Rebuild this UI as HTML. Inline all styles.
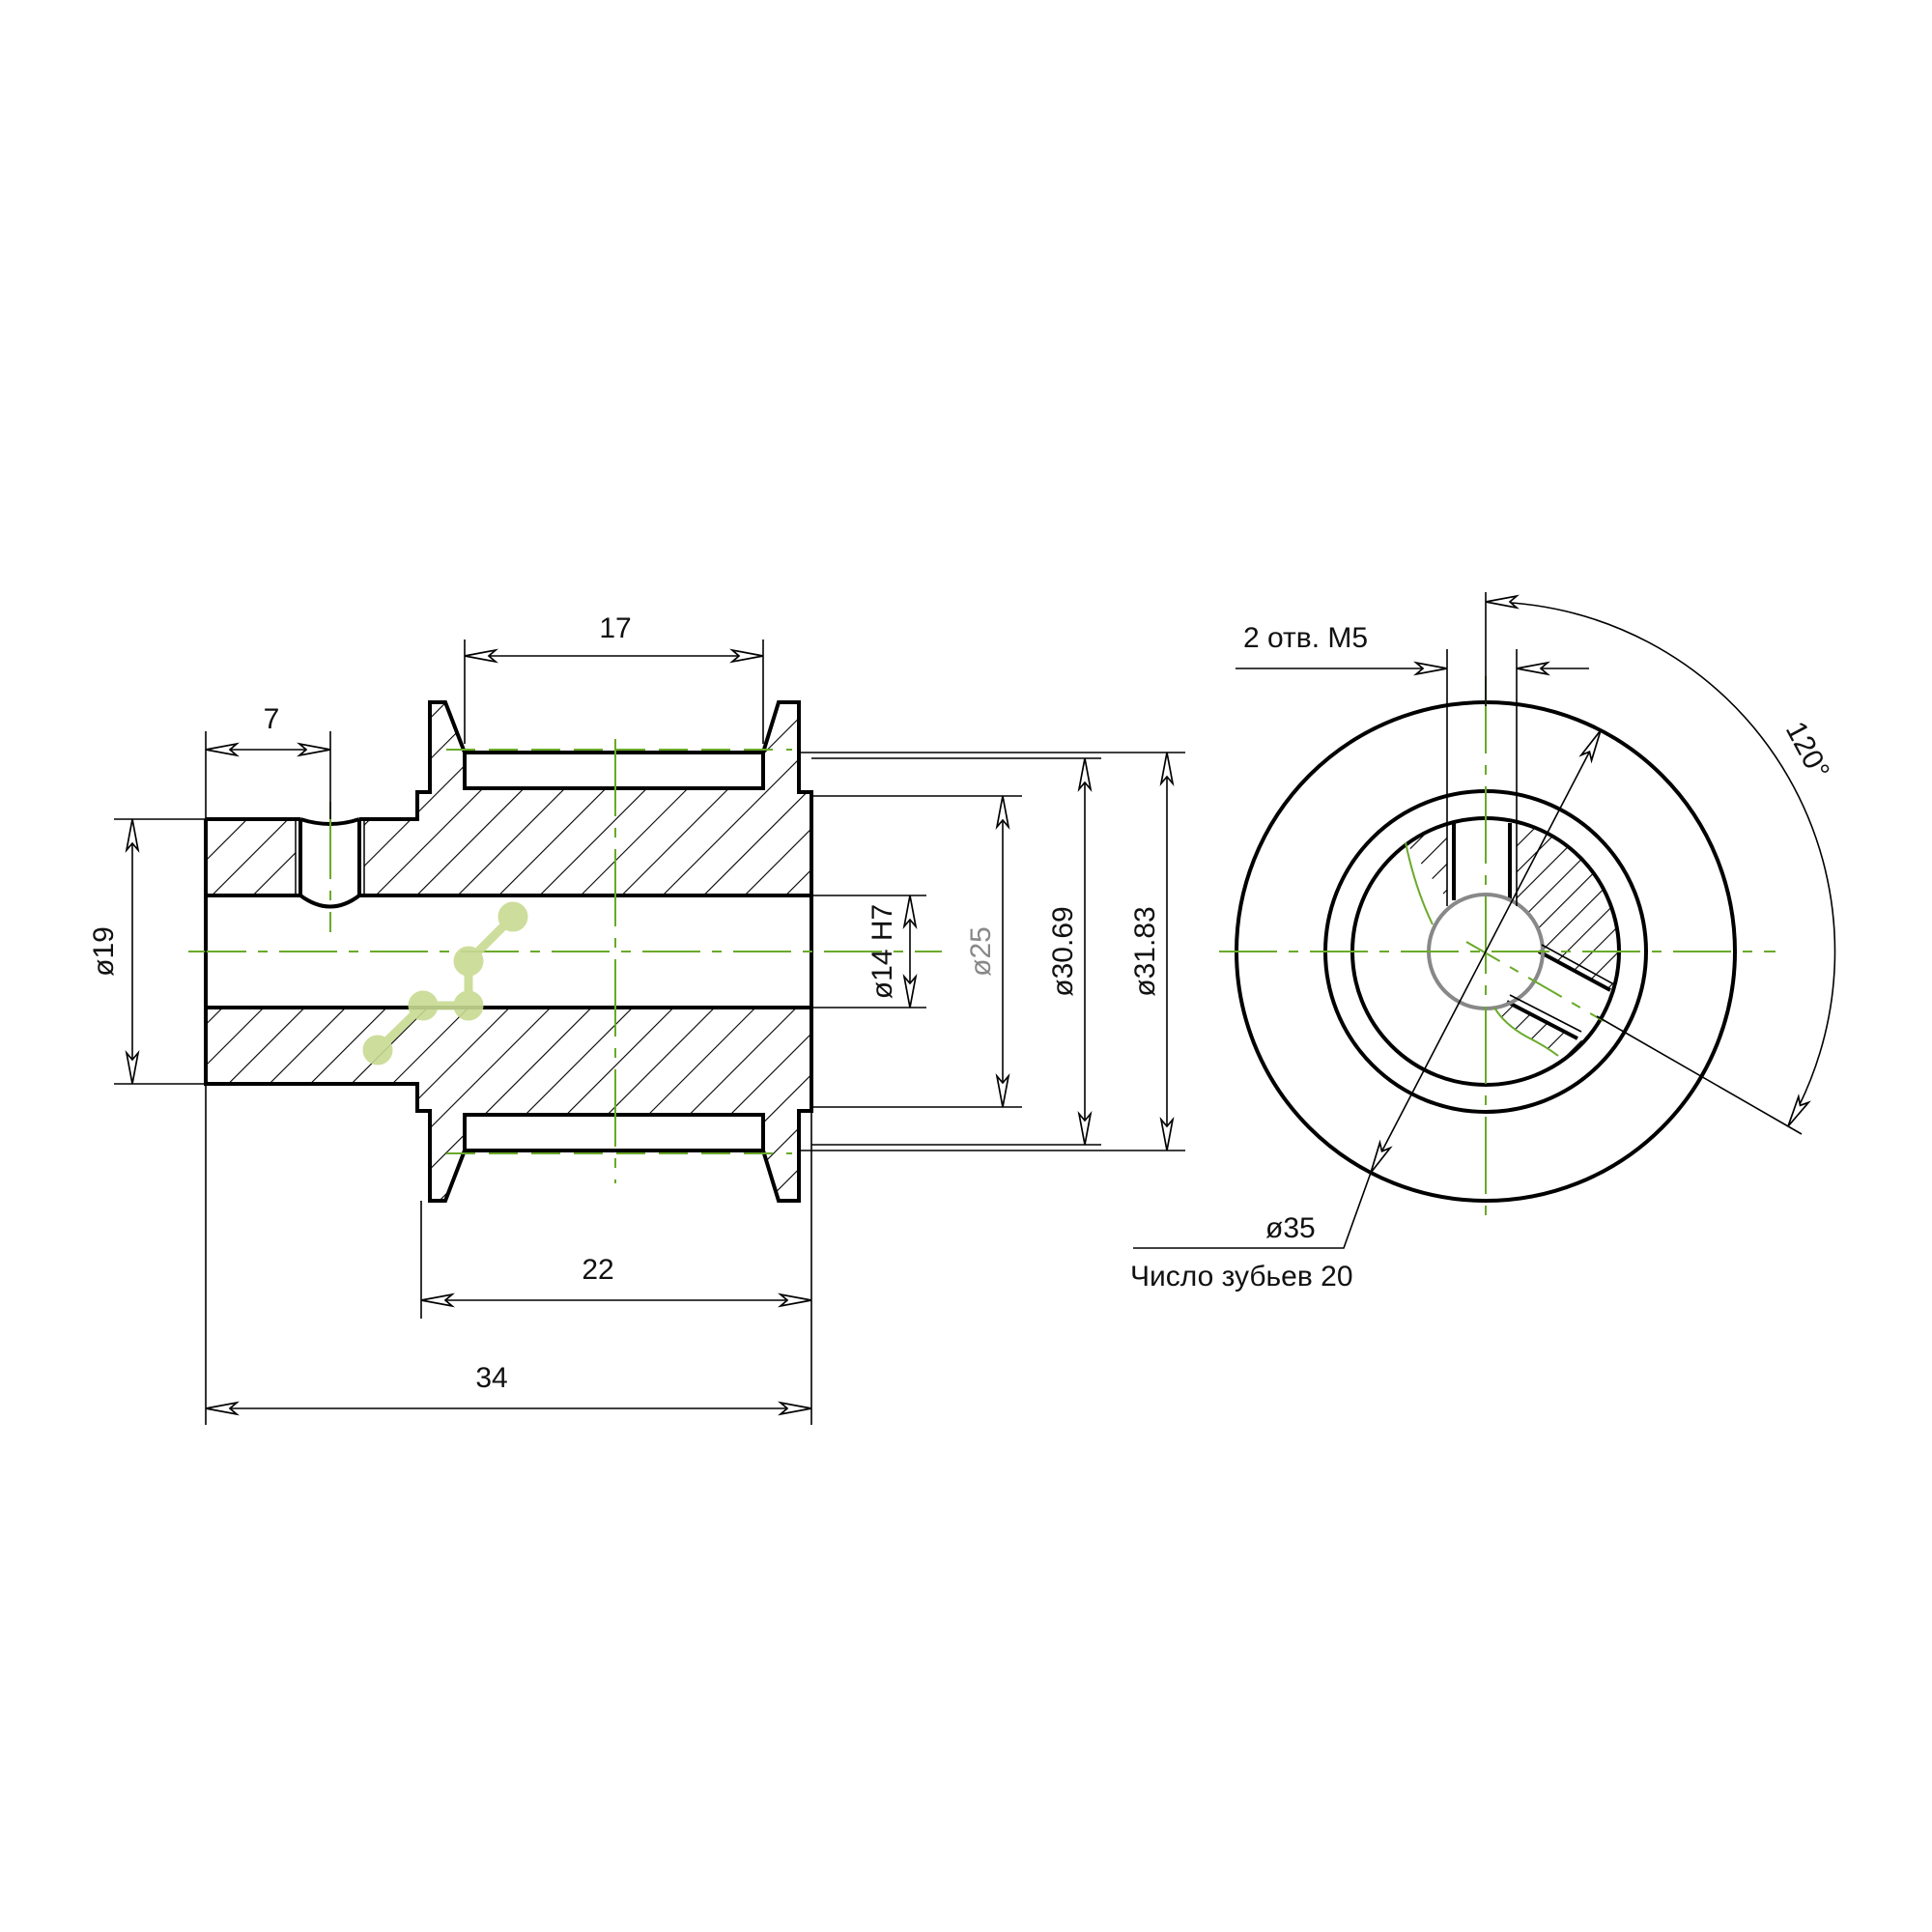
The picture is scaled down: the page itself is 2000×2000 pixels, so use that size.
<!DOCTYPE html>
<html><head><meta charset="utf-8"><style>
html,body{margin:0;padding:0;background:#fff}
svg{display:block}
text{font-family:"Liberation Sans","DejaVu Sans",sans-serif;fill:#111}
</style></head><body>
<svg width="2000" height="2000" viewBox="0 0 2000 2000" xmlns="http://www.w3.org/2000/svg">
<defs>
<marker id="ar" markerUnits="userSpaceOnUse" markerWidth="50" markerHeight="20" refX="0" refY="0" viewBox="-40 -10 50 20" orient="auto-start-reverse" overflow="visible">
<path d="M0,0 L-32,-6 L-25,0 L-32,6 Z" fill="#fff" stroke="#000" stroke-width="1.7"/>
</marker>
<pattern id="h1" patternUnits="userSpaceOnUse" width="30" height="30" patternTransform="rotate(45)">
<line x1="0" y1="0" x2="0" y2="30" stroke="#000" stroke-width="2.2"/></pattern>
<pattern id="h2" patternUnits="userSpaceOnUse" width="19" height="19" patternTransform="rotate(45)">
<line x1="0" y1="0" x2="0" y2="19" stroke="#000" stroke-width="2.2"/></pattern>
<clipPath id="ann"><path clip-rule="evenodd" d="M1400,985 a138,138 0 1,0 276,0 a138,138 0 1,0 -276,0 Z M1479,985 a59,59 0 1,0 118,0 a59,59 0 1,0 -118,0 Z"/></clipPath>
<clipPath id="wed">
<polygon points="1538,985 1372,759 1498,700 1498,985"/>
<polygon points="1570,700 1850,700 1850,1124 1580,978 1570,978"/>
<polygon points="1560,1037 1720,1120 1640,1140 1613,1093 1580,1073 1557,1057 1547,1043"/>
</clipPath>
</defs>

<g fill="url(#h1)" stroke="none">
<polygon points="213,848 306,848 306,927 213,927"/>
<polygon points="377,848 432,848 432,820 445,820 445,727 461,727 481,779 481,816 790,816 790,779 806,727 827,727 827,820 840,820 840,927 377,927"/>
<polygon points="213,1043 840,1043 840,1150 827,1150 827,1243 806,1243 790,1191 790,1154 481,1154 481,1191 461,1243 445,1243 445,1150 432,1150 432,1122 213,1122"/>
</g>

<g fill="none" stroke="#000" stroke-width="4" stroke-linejoin="miter">
<polyline points="213,848 311,848"/>
<polyline points="372,848 432,848 432,820 445,820 445,727 461,727 481,779 481,816 790,816 790,779 806,727 827,727 827,820 840,820 840,1150 827,1150 827,1243 806,1243 790,1191 790,1154 481,1154 481,1191 461,1243 445,1243 445,1150 432,1150 432,1122 213,1122 213,848"/>
<line x1="481" y1="779" x2="790" y2="779"/>
<line x1="481" y1="1191" x2="790" y2="1191"/>
<line x1="213" y1="927" x2="311" y2="927"/>
<line x1="372" y1="927" x2="840" y2="927"/>
<line x1="213" y1="1043" x2="840" y2="1043"/>
<line x1="311" y1="848" x2="311" y2="927"/>
<line x1="372" y1="848" x2="372" y2="927"/>
<path d="M311,848 Q342,858 372,848"/>
<path d="M311,927 Q342,950 372,927"/>
</g>
<g stroke="#000" stroke-width="1.5">
<line x1="306" y1="848" x2="306" y2="927"/>
<line x1="377" y1="848" x2="377" y2="927"/>
</g>

<g stroke="#6aaa2a" stroke-width="2" fill="none">
<line x1="195" y1="985" x2="975" y2="985" stroke-dasharray="60,12,10,12"/>
<line x1="637" y1="765" x2="637" y2="1225" stroke-dasharray="80,12,10,12"/>
<line x1="342" y1="830" x2="342" y2="965" stroke-dasharray="80,12,10,12"/>
<line x1="462" y1="776" x2="820" y2="776" stroke-dasharray="30,14"/>
<line x1="462" y1="1194" x2="820" y2="1194" stroke-dasharray="30,14"/>
</g>

<g stroke="#c8da92" stroke-width="9" fill="#c8da92" opacity="0.9">
<polyline points="391,1087 438,1041 485,1041 485,995 531,949" fill="none"/>
<circle cx="391" cy="1087" r="11"/><circle cx="438" cy="1041" r="11"/><circle cx="485" cy="1041" r="11"/><circle cx="485" cy="995" r="11"/><circle cx="531" cy="949" r="11"/>
</g>

<g stroke="#000" stroke-width="1.6" fill="none">
<line x1="481" y1="662" x2="481" y2="770"/>
<line x1="790" y1="662" x2="790" y2="770"/>
<line x1="213" y1="757" x2="213" y2="1475"/>
<line x1="342" y1="757" x2="342" y2="848"/>
<line x1="118" y1="848" x2="213" y2="848"/>
<line x1="118" y1="1122" x2="213" y2="1122"/>
<line x1="840" y1="927" x2="959" y2="927"/>
<line x1="840" y1="1043" x2="959" y2="1043"/>
<line x1="840" y1="824" x2="1058" y2="824"/>
<line x1="840" y1="1146" x2="1058" y2="1146"/>
<line x1="840" y1="785" x2="1140" y2="785"/>
<line x1="840" y1="1185" x2="1140" y2="1185"/>
<line x1="827" y1="779" x2="1227" y2="779"/>
<line x1="827" y1="1191" x2="1227" y2="1191"/>
<line x1="436" y1="1243" x2="436" y2="1365"/>
<line x1="840" y1="1150" x2="840" y2="1475"/>
<line x1="481" y1="679" x2="790" y2="679" marker-start="url(#ar)" marker-end="url(#ar)"/>
<line x1="213" y1="776" x2="342" y2="776" marker-start="url(#ar)" marker-end="url(#ar)"/>
<line x1="137" y1="848" x2="137" y2="1122" marker-start="url(#ar)" marker-end="url(#ar)"/>
<line x1="942" y1="927" x2="942" y2="1043" marker-start="url(#ar)" marker-end="url(#ar)"/>
<line x1="1038" y1="824" x2="1038" y2="1146" marker-start="url(#ar)" marker-end="url(#ar)"/>
<line x1="1123" y1="785" x2="1123" y2="1185" marker-start="url(#ar)" marker-end="url(#ar)"/>
<line x1="1208" y1="779" x2="1208" y2="1191" marker-start="url(#ar)" marker-end="url(#ar)"/>
<line x1="436" y1="1346" x2="840" y2="1346" marker-start="url(#ar)" marker-end="url(#ar)"/>
<line x1="213" y1="1458" x2="840" y2="1458" marker-start="url(#ar)" marker-end="url(#ar)"/>
</g>
<g font-size="30" text-anchor="middle">
<text x="637" y="660">17</text>
<text x="281" y="754">7</text>
<text x="619" y="1324">22</text>
<text x="509" y="1436">34</text>
<text transform="translate(117,985) rotate(-90)">ø19</text>
<text transform="translate(923,985) rotate(-90)">ø14 H7</text>
<text transform="translate(1025,985) rotate(-90)" style="fill:#888">ø25</text>
<text transform="translate(1110,985) rotate(-90)">ø30.69</text>
<text transform="translate(1195,985) rotate(-90)">ø31.83</text>
</g>

<g clip-path="url(#ann)"><g clip-path="url(#wed)">
<rect x="1380" y="820" width="320" height="340" fill="url(#h2)"/>
</g></g>

<g fill="none" stroke="#000" stroke-width="4">
<circle cx="1538" cy="985" r="258"/>
<circle cx="1538" cy="985" r="166"/>
<circle cx="1538" cy="985" r="138"/>
<line x1="1505" y1="852" x2="1505" y2="932"/>
<line x1="1563" y1="852" x2="1563" y2="932"/>
<line x1="1593" y1="985" x2="1667" y2="1025"/>
<line x1="1560" y1="1037" x2="1633" y2="1075"/>
</g>
<circle cx="1538" cy="985" r="59" fill="none" stroke="#888" stroke-width="4"/>
<g stroke="#000" stroke-width="1.6" fill="none">
<line x1="1498" y1="672" x2="1498" y2="938"/>
<line x1="1570" y1="672" x2="1570" y2="938"/>
<line x1="1596" y1="978" x2="1669" y2="1018"/>
<line x1="1563" y1="1030" x2="1637" y2="1068"/>
</g>
<g stroke="#6aaa2a" stroke-width="2" fill="none">
<line x1="1262" y1="985" x2="1838" y2="985" stroke-dasharray="60,12,10,12"/>
<line x1="1538" y1="700" x2="1538" y2="1265" stroke-dasharray="80,12,10,12"/>
<line x1="1518" y1="975" x2="1660" y2="1057" stroke-dasharray="40,12,10,12"/>
<path d="M1455,872 Q1465,920 1483,957"/>
<path d="M1547,1043 Q1557,1060 1580,1073 Q1600,1083 1613,1093"/>
</g>

<g stroke="#000" stroke-width="1.6" fill="none">
<line x1="1279" y1="692" x2="1498" y2="692" marker-end="url(#ar)"/>
<line x1="1645" y1="692" x2="1570" y2="692" marker-end="url(#ar)"/>
<line x1="1538" y1="613" x2="1538" y2="731"/>
<line x1="1653" y1="1052" x2="1865" y2="1174"/>
<path d="M1538,623 A362,362 0 0,1 1851,1166" marker-start="url(#ar)" marker-end="url(#ar)"/>
<line x1="1657" y1="756" x2="1419" y2="1214" marker-start="url(#ar)" marker-end="url(#ar)"/>
<polyline points="1419,1214 1391,1292 1173,1292"/>
</g>
<g font-size="30">
<text x="1287" y="670">2 отв. М5</text>
<text x="1310" y="1281">ø35</text>
<text x="1170" y="1331" font-family="'Liberation Sans','Noto Sans CJK SC',sans-serif">Число зубьев 20</text>
<text transform="translate(1848,754) rotate(62)">120°</text>
</g>
</svg>
</body></html>
